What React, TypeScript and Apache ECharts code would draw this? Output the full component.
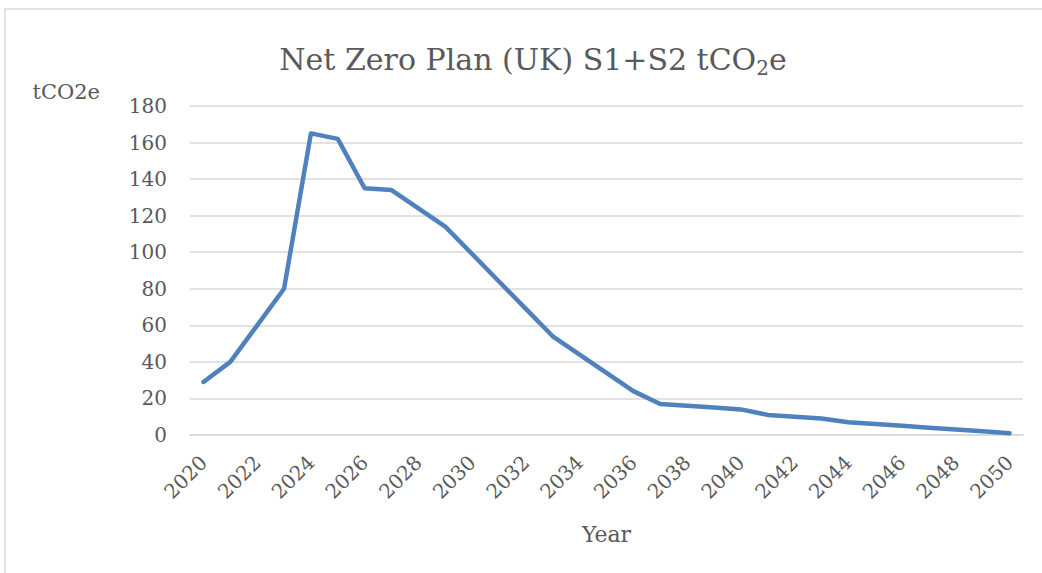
import React, { useEffect, useRef } from "react";
import * as echarts from "echarts";

const years = [
  "2020", "2021", "2022", "2023", "2024", "2025", "2026", "2027", "2028", "2029",
  "2030", "2031", "2032", "2033", "2034", "2035", "2036", "2037", "2038", "2039",
  "2040", "2041", "2042", "2043", "2044", "2045", "2046", "2047", "2048", "2049",
  "2050",
];
const emissions = [
  29, 40, 60, 80, 165, 162, 135, 134, 124, 114,
  99, 84, 69, 54, 44, 34, 24, 17, 16, 15,
  14, 11, 10, 9, 7, 6, 5, 4, 3, 2,
  1,
];
const yMin = 0;
const yMax = 180;
const yStep = 20;
const chartTitle = "Net Zero Plan (UK) S1+S2 tCO{sub|2}e";
const yAxisName = "tCO2e";
const xAxisName = "Year";

const FONT = "'DejaVu Serif', 'Liberation Serif', serif";
const TEXT = "#595959";
const GRID = "#d9d9d9";

export default function App() {
  const ref = useRef<HTMLDivElement>(null);
  useEffect(() => {
    if (!ref.current) return;
    const chart = echarts.init(ref.current, undefined, { renderer: "svg" });
    chart.setOption({
      animation: false,
      backgroundColor: "#ffffff",
      textStyle: { fontFamily: FONT, color: TEXT },
      graphic: [
        {
          type: "rect",
          z: -10,
          shape: { x: 5, y: 9, width: 1300, height: 900 },
          style: { fill: "none", stroke: GRID, lineWidth: 1.5 },
        },
        {
          type: "text",
          x: 533,
          y: 59,
          style: {
            text: chartTitle,
            fontFamily: FONT,
            fontSize: 30,
            fill: TEXT,
            align: "center",
            verticalAlign: "middle",
            rich: {
              sub: { fontSize: 20, fontFamily: FONT, fill: TEXT, padding: [18, 0, 0, 0] },
            },
          },
        },
      ],
      grid: { left: 190, right: 19, top: 106, bottom: 138 },
      xAxis: {
        type: "category",
        data: years,
        boundaryGap: true,
        name: xAxisName,
        nameLocation: "middle",
        nameGap: 88,
        nameTextStyle: { fontFamily: FONT, fontSize: 22, color: TEXT },
        axisLine: { show: true, lineStyle: { color: GRID, width: 1.5 } },
        axisTick: { show: false },
        axisLabel: {
          interval: 1,
          rotate: 45,
          margin: 24,
          fontFamily: FONT,
          fontSize: 20,
          color: TEXT,
        },
        splitLine: { show: false },
      },
      yAxis: {
        type: "value",
        min: yMin,
        max: yMax,
        interval: yStep,
        name: yAxisName,
        nameLocation: "end",
        nameGap: 4,
        nameTextStyle: {
          fontFamily: FONT,
          fontSize: 21,
          color: TEXT,
          align: "right",
          verticalAlign: "bottom",
          padding: [0, 90, 0, 0],
        },
        axisLine: { show: false },
        axisTick: { show: false },
        axisLabel: { margin: 23, fontFamily: FONT, fontSize: 20, color: TEXT },
        splitLine: { show: true, lineStyle: { color: GRID, width: 1.5 } },
      },
      series: [
        {
          type: "line",
          data: emissions,
          showSymbol: false,
          symbol: "none",
          lineStyle: { color: "#4f81bd", width: 4.5, cap: "round", join: "round" },
          itemStyle: { color: "#4f81bd" },
        },
      ],
    });
    return () => chart.dispose();
  }, []);
  return (
    <div
      ref={ref}
      style={{ position: "absolute", left: 0, top: 0, width: 1042, height: 573 }}
    />
  );
}
